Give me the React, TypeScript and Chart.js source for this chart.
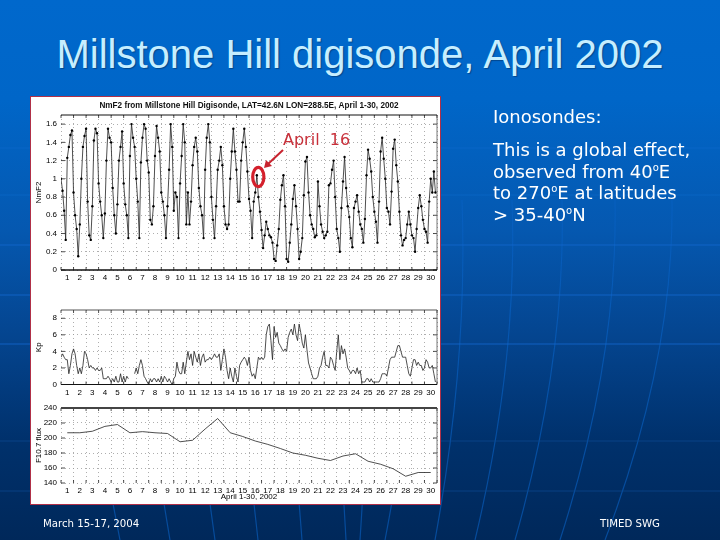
import { useEffect, useRef } from 'react'
import { Chart, registerables } from 'chart.js'

Chart.register(...registerables)

// 3-hourly samples, one row per day
const nmf2 = [
  1.0, 0.87, 0.65, 0.33, 1.23, 1.35, 1.48, 1.53,
  0.85, 0.6, 0.45, 0.15, 0.5, 1.0, 1.35, 1.47,
  1.55, 0.75, 0.38, 0.33, 0.7, 1.42, 1.55, 1.5,
  0.95, 0.75, 0.6, 0.35, 0.62, 1.2, 1.55, 1.45,
  1.4, 0.9, 0.6, 0.4, 0.72, 1.2, 1.35, 1.52,
  0.95, 0.72, 0.6, 0.35, 1.25, 1.6, 1.45, 1.35,
  1.0, 0.75, 0.35, 1.18, 1.45, 1.6, 1.55, 1.2,
  1.07, 0.55, 0.5, 0.7, 1.25, 1.58, 1.45, 1.3,
  0.85, 0.75, 0.6, 0.35, 0.7, 1.1, 1.6, 1.35,
  0.65, 0.85, 0.8, 0.35, 0.95, 1.25, 1.6, 1.4,
  0.5, 0.85, 0.5, 0.75, 1.15, 1.35, 1.45, 1.3,
  0.9, 0.7, 0.6, 0.35, 1.1, 1.45, 1.6, 1.4,
  0.8, 0.55, 0.35, 0.7, 1.1, 1.2, 1.35, 1.15,
  0.7, 0.5, 0.45, 0.5, 1.0, 1.3, 1.55, 1.3,
  1.1, 0.75, 0.75, 1.2, 1.4, 1.55, 1.35, 1.08,
  0.78, 0.65, 0.35, 0.75, 0.85, 1.04, 0.8, 0.64,
  0.44, 0.24, 0.38, 0.53, 0.45, 0.38, 0.36, 0.3,
  0.12, 0.1, 0.27, 0.45, 0.77, 0.93, 1.04, 0.7,
  0.12, 0.09, 0.3, 0.5, 0.78, 0.93, 0.7, 0.45,
  0.12, 0.2, 0.35, 0.82, 1.19, 1.24, 0.85, 0.6,
  0.5, 0.45, 0.36, 0.38, 0.97, 0.7, 0.5, 0.42,
  0.35, 0.38, 0.42, 0.93, 0.95, 1.1, 1.2, 0.8,
  0.45, 0.35, 0.2, 0.68, 0.97, 1.24, 0.9, 0.7,
  0.58, 0.35, 0.25, 0.68, 0.75, 0.82, 0.64, 0.5,
  0.45, 0.3, 0.56, 1.04, 1.32, 1.22, 1.08, 0.8,
  0.64, 0.53, 0.3, 0.75, 1.3, 1.45, 1.22, 1.0,
  0.68, 0.64, 0.5, 0.86, 1.33, 1.43, 1.15, 0.97,
  0.64, 0.38, 0.27, 0.33, 0.35, 0.5, 0.64, 0.5,
  0.38, 0.35, 0.2, 0.45, 0.68, 0.82, 0.7, 0.55,
  0.45, 0.42, 0.3, 0.75, 1.0, 0.85, 1.08, 0.85,
]

const kp = [
  3.3, 3.7, 3.3, 3, 3, 1.3, 2.3, 3.7,
  4.3, 3.7, 2.3, 1.3, 2, 1.3, 2.3, 4,
  3.7, 3, 2, 2.3, 2, 2, 1.7, 2,
  1.7, 1.7, 2, 0.7, 0.7, 0.7, 1, 0.7,
  0.3, 0.7, 0.3, 1, 0.3, 0.3, 1.3, 0.3,
  1, 0.3, 1, 0.7, null, null, null, 1.3,
  2, 1.3, 2.3, 3, 2.3, 1, 0.7, 0.3,
  0, 0.7, 0.3, 0.7, 0.7, 0.3, 0.7, 0.3,
  1, 0.3, 1, 0.7, 0.3, 0.7, 0.3, 0,
  0.7, 1, 2.7, 1.7, 1.3, 1.3, 2.7, 1.3,
  2.7, 4, 3, 3.7, 2.3, 4, 3.3, 2.7,
  3.7, 2.3, 3.3, 3.7, 2.7, 3, 3, 3.3,
  3, 3.3, 3.7, 3.3, 3.3, 3.7, 1.7, 3,
  4.3, 3.3, 1.7, 0.7, 2, 1, 0.3, 2,
  1, 0.3, 2.3, 2.7, 3, 3.3, 3, 2.3,
  3.3, 1.7, 1, 1.3, 0.7, 2, 3.3, 3,
  3.3, 3, 3.3, 6, 7, 7.3, 5.3, 3,
  7, 5.7, 6.3, 5, 4.7, 4.3, 4, 4.3,
  4, 5.7, 6.3, 6.7, 6, 7.3, 6, 5.3,
  7.3, 6.3, 5, 4.4, 6, 4.2, 2.6, 2,
  1.3, 0.7, 0.7, 0.7, 1, 2, 2.3, 3.3,
  4, 2.3, 2.3, 2, 3.3, 3, 2.3, 1.7,
  4, 6, 3, 4.7, 3.7, 4.3, 3.3, 2,
  1.7, 1.3, 1.7, 1.7, 1.3, 2, 1.3, 1.7,
  0.3, 0.3, 0.3, 0.7, 0.7, 0.3, 0.7, 0.3,
  0.3, 0.3, 0.3, 0.3, 0.7, 1.3, 1.3, 1.3,
  1, 2, 3, 3.3, 3.3, 3.3, 4, 4.7,
  4.7, 4, 3.3, 3.3, 3.3, 2.3, 1.3, 1,
  2, 3, 3, 2.3, 2.7, 2.3, 2.3, 1.7,
  2, 3, 2.7, 2, 2, 2.3, 1.3, 0.3,
]

// one value per day, plotted at local noon
const f107 = [
  207, 207, 209, 215.5, 218, 207, 208.5, 207, 206, 195,
  197, 212, 226, 207, 202, 196, 191.5, 186, 180, 177,
  173, 170, 176, 179, 169, 165, 159, 149, 154, 154,
]

const bgVerticals = [
  'M 60 200 Q 85 360 120 540', 'M 120 200 Q 140 360 170 540', 'M 172 200 Q 190 360 215 540',
  'M 222 200 Q 238 360 258 540', 'M 274 200 Q 288 360 302 540', 'M 322 200 Q 336 360 346 540',
  'M 366 200 Q 372 360 360 540', 'M 412 200 Q 420 360 385 540', 'M 462 200 Q 468 360 435 540',
  'M 512 200 Q 518 360 475 540', 'M 562 200 Q 566 360 515 540', 'M 615 200 Q 618 360 560 540',
  'M 672 200 Q 674 360 605 540',
]
const bgHorizontals = [245, 295, 344]
const bgFaintHorizontals = [148, 195]
const bgDimHorizontals = [441, 491]

const tickFont = { family: 'Liberation Sans', size: 8 }

// plot frame and the inward tick marks the original has on all four sides
const framePlugin = {
  id: 'frameTicks',
  afterDatasetsDraw(chart: any, _args: any, opts: any) {
    const { ctx, chartArea: a, scales } = chart
    ctx.save()
    ctx.strokeStyle = '#222'
    ctx.lineWidth = 0.8
    ctx.beginPath()
    scales.x.ticks.forEach((t: any) => {
      const px = scales.x.getPixelForValue(t.value)
      ctx.moveTo(px, a.top)
      ctx.lineTo(px, a.top + 3)
      ctx.moveTo(px, a.bottom)
      ctx.lineTo(px, a.bottom - 3)
    })
    scales.y.ticks.forEach((t: any) => {
      const py = scales.y.getPixelForValue(t.value)
      ctx.moveTo(a.left, py)
      ctx.lineTo(a.left + 4, py)
      ctx.moveTo(a.right, py)
      ctx.lineTo(a.right - 4, py)
    })
    ctx.stroke()
    ctx.lineWidth = 0.8
    ctx.strokeStyle = '#555'
    ctx.beginPath()
    ctx.moveTo(a.right, a.top)
    ctx.lineTo(a.right, a.bottom)
    ctx.stroke()
    ctx.strokeStyle = opts.topColor
    ctx.lineWidth = opts.topWidth
    ctx.beginPath()
    ctx.moveTo(a.left, a.top)
    ctx.lineTo(a.right, a.top)
    ctx.stroke()
    if (opts.bottomWidth) {
      ctx.strokeStyle = '#111'
      ctx.lineWidth = opts.bottomWidth
      ctx.beginPath()
      ctx.moveTo(a.left, a.bottom)
      ctx.lineTo(a.right, a.bottom)
      ctx.stroke()
    }
    ctx.restore()
  },
}

type PanelProps = {
  top: number
  height: number
  plotTop: number
  plotBottom: number
  points: any[]
  yMin: number
  yMax: number
  yStep: number
  yTitle: string
  yDigits?: number
  markers?: boolean
  lineWidth: number
  title?: string
  xTitle?: string
  topWidth: number
  topColor: string
  bottomWidth: number
}

function Panel({ ...p }: PanelProps) {
  const canvasRef = useRef<HTMLCanvasElement>(null)

  useEffect(() => {
    const chart = new Chart(canvasRef.current as HTMLCanvasElement, {
      type: 'line',
      data: {
        datasets: [
          {
            data: p.points,
            borderColor: '#222',
            backgroundColor: '#000',
            borderWidth: p.lineWidth,
            pointRadius: p.markers ? 1.2 : 0,
            pointBorderWidth: 0,
            tension: 0,
          },
        ],
      },
      options: {
        animation: false,
        responsive: false,
        layout: {
          padding: {
            top: p.title ? 0 : p.plotTop - p.top,
            right: 4,
            bottom: 0,
          },
        },
        plugins: {
          legend: { display: false },
          tooltip: { enabled: false },
          title: {
            display: !!p.title,
            text: p.title,
            fullSize: false,
            color: '#111',
            font: { family: 'Liberation Sans', size: 8.2, weight: 'bold' },
            padding: { top: 4, bottom: p.plotTop - p.top - 13.84 },
          },
          frameTicks: { topWidth: p.topWidth, topColor: p.topColor, bottomWidth: p.bottomWidth },
        } as any,
        scales: {
          x: {
            type: 'linear',
            min: 1,
            max: 31,
            afterFit: (scale: any) => {
              scale.height = p.top + p.height - p.plotBottom
            },
            border: { display: false, dash: [1, 3] },
            grid: { color: '#999', lineWidth: 0.8, drawTicks: false },
            ticks: {
              stepSize: 1,
              autoSkip: false,
              maxRotation: 0,
              padding: 3,
              labelOffset: 6.27,
              color: '#000',
              font: tickFont,
              callback: (v: any) => (v < 31 ? String(v) : ''),
            },
            title: {
              display: !!p.xTitle,
              text: p.xTitle,
              color: '#000',
              padding: 0,
              font: { family: 'Liberation Sans', size: 8 },
            },
          },
          y: {
            min: p.yMin,
            max: p.yMax,
            afterFit: (scale: any) => {
              scale.width = 31
            },
            border: { display: false, dash: [1, 3] },
            grid: { color: '#999', lineWidth: 0.8, drawTicks: false },
            ticks: {
              stepSize: p.yStep,
              includeBounds: false,
              padding: 4,
              color: '#000',
              font: tickFont,
              callback: (v: any) => (p.yDigits ? Number(v).toFixed(p.yDigits).replace(/^(0|1)\.0$/, '$1') : String(v)),
            },
            title: {
              display: true,
              text: p.yTitle,
              color: '#000',
              padding: { top: 4, bottom: 0 },
              font: { family: 'Liberation Sans', size: 8 },
            },
          },
        },
      },
      plugins: [framePlugin],
    } as any)

    return () => {
      chart.destroy()
    }
    // eslint-disable-next-line react-hooks/exhaustive-deps
  }, [])

  return (
    <canvas
      ref={canvasRef}
      width={411}
      height={p.height}
      style={{ position: 'absolute', left: 30, top: p.top, width: 411, height: p.height }}
    />
  )
}

const lineText = {
  position: 'absolute',
  whiteSpace: 'nowrap',
  color: '#fff',
  fontFamily: 'DejaVu Sans',
} as const

const deg = <sup style={{ fontSize: 10, lineHeight: 0 }}>o</sup>

export default function App() {
  return (
    <div
      style={{
        position: 'fixed',
        left: 0,
        top: 0,
        width: 720,
        height: 540,
        overflow: 'hidden',
        background:
          'linear-gradient(to bottom, #0068cc 0, #0066c8 100px, #0558b0 230px, #04448e 340px, #00316c 440px, #00285a 540px)',
      }}
    >
      <svg width={720} height={540} style={{ position: 'absolute', left: 0, top: 0 }}>
        {bgVerticals.map((d) => (
          <path key={d} d={d} fill="none" stroke="#0a63c4" strokeWidth={1.2} opacity={0.6} />
        ))}
        {bgHorizontals.map((y) => (
          <line key={y} x1={0} x2={720} y1={y} y2={y} stroke="#1568cf" strokeWidth={1.2} opacity={0.8} />
        ))}
        {bgFaintHorizontals.map((y) => (
          <line key={y} x1={0} x2={720} y1={y} y2={y} stroke="#1270d6" strokeWidth={1} opacity={0.4} />
        ))}
        {bgDimHorizontals.map((y) => (
          <line key={y} x1={0} x2={720} y1={y} y2={y} stroke="#0c4a92" strokeWidth={1} opacity={0.7} />
        ))}
      </svg>

      <div
        style={{
          position: 'absolute',
          left: 0,
          width: 720,
          top: 31,
          textAlign: 'center',
          fontFamily: 'Liberation Sans',
          fontSize: 40,
          lineHeight: '46px',
          color: '#c6eeff',
          textShadow: '1px 1px 1px #00478f',
        }}
      >
        Millstone Hill digisonde, April 2002
      </div>

      <div
        style={{
          position: 'absolute',
          left: 30,
          top: 96,
          width: 409,
          height: 407,
          background: '#fff',
          border: '1px solid #b03048',
        }}
      />

      <Panel
        top={97}
        height={193}
        plotTop={115}
        plotBottom={270}
        points={nmf2.map((v, i) => ({ x: 1 + i / 8, y: v }))}
        yMin={0}
        yMax={1.7}
        yStep={0.2}
        yDigits={1}
        yTitle="NmF2"
        markers
        lineWidth={0.8}
        title="NmF2 from Millstone Hill Digisonde, LAT=42.6N LON=288.5E, April 1-30, 2002"
        topWidth={1}
        topColor="#111"
        bottomWidth={1.5}
      />
      <Panel
        top={300}
        height={98}
        plotTop={310}
        plotBottom={384.5}
        points={kp.map((v, i) => ({ x: 1 + i / 8, y: v }))}
        yMin={0}
        yMax={9}
        yStep={2}
        yTitle="Kp"
        lineWidth={0.8}
        topWidth={1}
        topColor="#555"
        bottomWidth={1}
      />
      <Panel
        top={398}
        height={104}
        plotTop={408}
        plotBottom={483}
        points={f107.map((v, i) => ({ x: i + 1.5, y: v }))}
        yMin={140}
        yMax={240}
        yStep={20}
        yTitle="F10.7 flux"
        xTitle="April 1-30, 2002"
        lineWidth={0.8}
        topWidth={2}
        topColor="#444"
        bottomWidth={0}
      />

      <svg width={720} height={540} style={{ position: 'absolute', left: 0, top: 0, pointerEvents: 'none' }}>
        <ellipse cx={258.3} cy={177} rx={5.6} ry={9.6} fill="none" stroke="#d4202c" strokeWidth={3.2} />
        <line x1={283} y1={150} x2={268} y2={164} stroke="#c8232e" strokeWidth={2} />
        <polygon points="264,168 266,160 272,166" fill="#c8232e" />
      </svg>
      <div style={{ ...lineText, left: 283, top: 130, fontSize: 16, lineHeight: '20px', color: '#c8303a' }}>
        April{'\u00a0\u00a0'}16
      </div>

      <div style={{ ...lineText, left: 493, top: 106, fontSize: 18, lineHeight: '22px' }}>Ionosondes:</div>
      <div style={{ ...lineText, left: 493, top: 139, fontSize: 18, lineHeight: '21.5px' }}>
        This is a global effect,
        <br />
        observed from 40{deg}E
        <br />
        to 270{deg}E at latitudes
        <br />
        &gt; 35-40{deg}N
      </div>

      <div style={{ ...lineText, left: 43, top: 517, fontSize: 10.2, lineHeight: '14px' }}>March 15-17, 2004</div>
      <div style={{ ...lineText, left: 600, top: 517, fontSize: 10.2, lineHeight: '14px' }}>TIMED SWG</div>
    </div>
  )
}
